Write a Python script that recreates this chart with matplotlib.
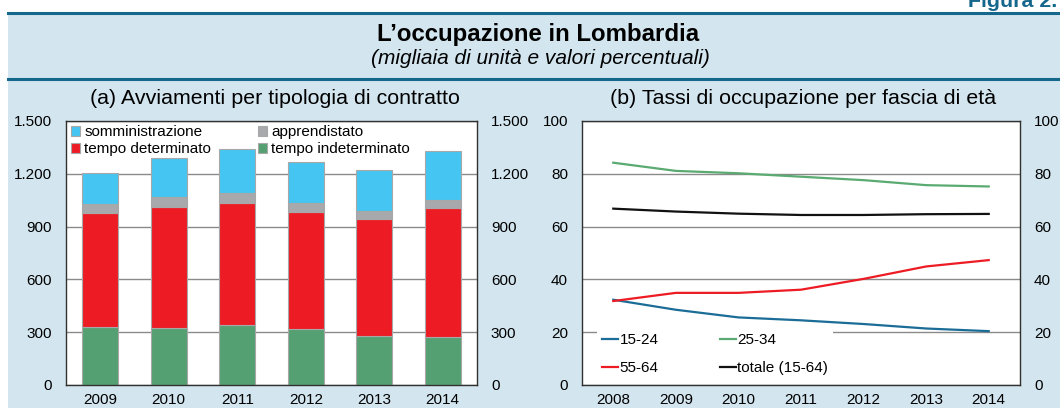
import matplotlib
matplotlib.use('Agg')
import matplotlib.pyplot as plt
from matplotlib.patches import Rectangle
from matplotlib.lines import Line2D
from matplotlib.ticker import FuncFormatter

plt.rcParams['font.family'] = ['Liberation Sans', 'DejaVu Sans']

# (a) avviamenti per tipologia di contratto (migliaia)
anni_a = ['2009', '2010', '2011', '2012', '2013', '2014']
tempo_indeterminato = [327, 325, 339, 318, 278, 270]
tempo_determinato = [649, 689, 694, 664, 668, 738]
apprendistato = [51, 55, 56, 51, 41, 44]
somministrazione = [176, 219, 254, 232, 233, 278]

# (b) tassi di occupazione per fascia di eta (%)
anni_b = [2008, 2009, 2010, 2011, 2012, 2013, 2014]
eta_15_24 = [32.3, 28.5, 25.6, 24.5, 23.1, 21.4, 20.4]
eta_25_34 = [84.2, 81.1, 80.2, 78.9, 77.6, 75.7, 75.2]
eta_55_64 = [31.8, 34.9, 34.9, 36.1, 40.2, 44.9, 47.3]
totale_15_64 = [66.8, 65.7, 64.9, 64.4, 64.4, 64.7, 64.8]

W, H = 1060, 408
bg = '#d3e5ef'
teal = '#16678c'
grid_col = '#8a8a8a'

fig = plt.figure(figsize=(W / 100, H / 100), dpi=100, facecolor='white')

# background panel and header rules
fig.patches.append(Rectangle((8 / W, 0), 1, 1 - 14 / H, transform=fig.transFigure,
                             facecolor=bg, edgecolor='none', zorder=-2))
for yy in [12.8, 78.5]:
    fig.lines.append(Line2D([8 / W, 1], [1 - yy / H] * 2, transform=fig.transFigure,
                            color=teal, lw=2.2))

fig.text(968 / W, 1 - 7 / H, 'Figura 2.', color=teal, fontsize=15.4, fontweight='bold',
         ha='left', va='baseline')
fig.text(538 / W, 1 - 35 / H, 'L\u2019occupazione in Lombardia', fontsize=17.3,
         fontweight='bold', ha='center', va='center')
fig.text(540 / W, 1 - 58 / H, '(migliaia di unit\u00e0 e valori percentuali)', fontsize=15,
         style='italic', ha='center', va='center')
fig.text(275 / W, 1 - 98 / H, '(a) Avviamenti per tipologia di contratto', fontsize=15.4,
         ha='center', va='center')
fig.text(803 / W, 1 - 98 / H, '(b) Tassi di occupazione per fascia di et\u00e0', fontsize=15.4,
         ha='center', va='center')

ax_bottom = 1 - 385 / H
ax_h = (385 - 121) / H


def style_axes(ax):
    for s in ax.spines.values():
        s.set_color('#303030')
        s.set_linewidth(1.0)
    ax.tick_params(axis='y', length=0, labelsize=11, pad=10, labelleft=True, labelright=True)
    ax.tick_params(axis='x', length=0, labelsize=11, pad=6)
    ax.grid(axis='y', color=grid_col, lw=1.0)
    ax.set_axisbelow(True)


# ---- panel (a)
ax1 = fig.add_axes([66 / W, ax_bottom, (477 - 66) / W, ax_h])
x = range(len(anni_a))
bw = 0.53
ec = '#a8a8a8'
b1 = ax1.bar(x, tempo_indeterminato, bw, color='#55a072', edgecolor=ec, lw=0.8)
bot = tempo_indeterminato
b2 = ax1.bar(x, tempo_determinato, bw, bottom=bot, color='#ed1c24', edgecolor=ec, lw=0.8)
bot = [a + b for a, b in zip(bot, tempo_determinato)]
b3 = ax1.bar(x, apprendistato, bw, bottom=bot, color='#a7a9ac', edgecolor=ec, lw=0.8)
bot = [a + b for a, b in zip(bot, apprendistato)]
b4 = ax1.bar(x, somministrazione, bw, bottom=bot, color='#45c6f2', edgecolor=ec, lw=0.8)
ax1.set_xlim(-0.5, len(anni_a) - 0.5)
ax1.set_ylim(0, 1500)
ax1.set_yticks(range(0, 1501, 300))
ax1.yaxis.set_major_formatter(FuncFormatter(lambda v, p: f'{int(v):,}'.replace(',', '.')))
ax1.set_xticks(list(x))
ax1.set_xticklabels(anni_a)
style_axes(ax1)
ax1.legend([b4, b2, b3, b1],
           ['somministrazione', 'tempo determinato', 'apprendistato', 'tempo indeterminato'],
           ncol=2, loc='upper left', bbox_to_anchor=(0.005, 0.995), frameon=False,
           fontsize=11, handlelength=0.6, handleheight=0.6, handletextpad=0.25,
           columnspacing=3.1, labelspacing=0.18, borderpad=0.2, borderaxespad=0)

# ---- panel (b)
ax2 = fig.add_axes([582 / W, ax_bottom, (1020 - 582) / W, ax_h])
ax2.plot(anni_b, eta_15_24, color='#1b6d97', lw=1.6, label='15-24')
ax2.plot(anni_b, eta_25_34, color='#5aaa72', lw=1.6, label='25-34')
ax2.plot(anni_b, eta_55_64, color='#ed1c24', lw=1.6, label='55-64')
ax2.plot(anni_b, totale_15_64, color='#111111', lw=1.6, label='totale (15-64)')
ax2.set_xlim(anni_b[0] - 0.5, anni_b[-1] + 0.5)
ax2.set_ylim(0, 100)
ax2.set_yticks(range(0, 101, 20))
ax2.set_xticks(anni_b)
style_axes(ax2)
h, l = ax2.get_legend_handles_labels()
leg = ax2.legend([h[0], h[2], h[1], h[3]], [l[0], l[2], l[1], l[3]],
                 ncol=2, loc='lower left', bbox_to_anchor=(0.035, 0.02), frameon=True,
                 fontsize=11, handlelength=1.05, handletextpad=0.1, columnspacing=4.0,
                 labelspacing=0.92, borderpad=0.3, borderaxespad=0, fancybox=False)
leg.get_frame().set_facecolor('white')
leg.get_frame().set_edgecolor('none')
leg.get_frame().set_alpha(1)

fig.savefig('out.png', dpi=100, facecolor='white')
